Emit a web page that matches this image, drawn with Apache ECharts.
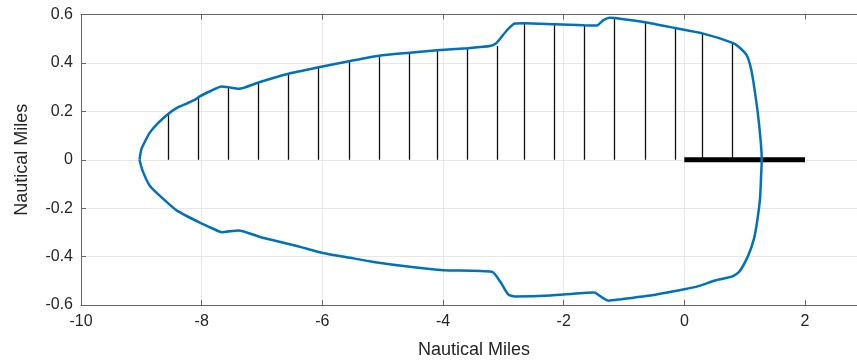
<!DOCTYPE html>
<html>
<head>
<meta charset="utf-8">
<script src="https://cdn.jsdelivr.net/npm/echarts@6/dist/echarts.min.js"></script>
<style>
html,body{margin:0;padding:0;background:#fff;}
#chart{width:857px;height:364px;}
</style>
</head>
<body>
<div id="chart"></div>
<script>
// Closed boundary curve (nautical miles): upper branch, right side, lower branch
const curveX = [-9.03,-9.00,-8.93,-8.86,-8.72,-8.56,-8.41,-8.25,-8.11,-8.03,-7.85,-7.67,-7.56,-7.38,-7.06,-6.56,-6.06,-5.56,-5.06,-4.55,-4.10,-3.60,-3.22,-3.11,-2.94,-2.81,-2.65,-2.15,-1.66,-1.45,-1.34,-1.24,-1.15,-0.65,-0.15,0.30,0.80,0.90,1.03,1.09,1.14,1.23,1.283,1.27,1.255,1.21,1.155,1.06,0.91,0.786,0.537,0.206,0.0,-0.57,-1.07,-1.26,-1.48,-1.51,-2.22,-2.81,-2.92,-3.05,-3.19,-3.99,-4.55,-5.15,-5.54,-5.99,-6.37,-7.03,-7.39,-7.67,-7.81,-8.03,-8.41,-8.60,-8.86,-8.98,-9.03];
const curveY = [0,0.043,0.080,0.112,0.152,0.188,0.214,0.232,0.248,0.262,0.284,0.303,0.300,0.293,0.319,0.355,0.382,0.407,0.430,0.442,0.452,0.461,0.470,0.483,0.535,0.563,0.564,0.560,0.556,0.555,0.577,0.587,0.586,0.568,0.544,0.522,0.483,0.467,0.433,0.392,0.330,0.167,0,-0.08,-0.16,-0.25,-0.326,-0.395,-0.463,-0.483,-0.497,-0.524,-0.535,-0.561,-0.577,-0.582,-0.549,-0.548,-0.561,-0.565,-0.556,-0.504,-0.463,-0.456,-0.442,-0.422,-0.405,-0.385,-0.360,-0.319,-0.292,-0.299,-0.285,-0.260,-0.210,-0.170,-0.107,-0.045,0];

// Vertical reference lines: x positions and heights
const stickX = [-8.56,-8.06,-7.56,-7.06,-6.56,-6.06,-5.56,-5.06,-4.56,-4.10,-3.60,-3.10,-2.65,-2.155,-1.658,-1.154,-0.651,-0.149,0.298,0.802];
const stickTop = [0.185,0.256,0.299,0.319,0.355,0.382,0.407,0.430,0.442,0.452,0.461,0.470,0.564,0.560,0.556,0.585,0.567,0.543,0.522,0.483];

// Thick baseline segment
const barX = [0, 2];
const barY = [0, 0];

const xTicks = [-10,-8,-6,-4,-2,0,2];
const yTicks = [-0.6,-0.4,-0.2,0,0.2,0.4,0.6];

const chart = echarts.init(document.getElementById('chart'), null, {renderer:'canvas'});
const font = 'Liberation Sans, Arial, Helvetica, sans-serif';
const axisCol = '#666';
const txtCol = '#262626';
const xMaxVisible = 2.862; // plot is cut by the right edge of the picture

const option = {
  animation: false,
  backgroundColor: '#fff',
  grid: {left: 81, top: 14.5, width: 776, height: 292.5, containLabel: false},
  xAxis: [{
    type: 'value', min: -10, max: xMaxVisible, interval: 2,
    name: 'Nautical Miles', nameLocation: 'middle', nameGap: 36,
    nameTextStyle: {fontFamily: font, fontSize: 18, color: txtCol, padding: [0, 0, 0, 10]},
    axisLine: {show: true, onZero: false, lineStyle: {color: axisCol, width: 1}},
    axisTick: {show: true, inside: true, length: 5, lineStyle: {color: axisCol},
      customValues: xTicks},
    axisLabel: {fontFamily: font, fontSize: 16, color: txtCol, margin: 9,
      customValues: xTicks, formatter: v => String(v)},
    splitLine: {show: true, showMaxLine: false, lineStyle: {color: '#e8e8e8', width: 1}}
  }, {
    type: 'value', position: 'top', min: -10, max: xMaxVisible, interval: 2,
    axisLine: {show: true, onZero: false, lineStyle: {color: axisCol, width: 1}},
    axisTick: {show: true, inside: true, length: 5, lineStyle: {color: axisCol},
      customValues: xTicks},
    axisLabel: {show: false}, splitLine: {show: false}
  }],
  yAxis: {
    type: 'value', min: -0.6, max: 0.6, interval: 0.2,
    name: 'Nautical Miles', nameLocation: 'middle', nameGap: 50,
    nameTextStyle: {fontFamily: font, fontSize: 18, color: txtCol},
    axisLine: {show: true, onZero: false, lineStyle: {color: axisCol, width: 1}},
    axisTick: {show: true, inside: true, length: 5, lineStyle: {color: axisCol}},
    axisLabel: {fontFamily: font, fontSize: 16, color: txtCol, margin: 8,
      formatter: v => { const r = Math.round(v*10)/10; return yTicks.includes(r) ? String(r) : ''; }},
    splitLine: {show: true, lineStyle: {color: '#e8e8e8', width: 1}}
  },
  series: [
    {
      type: 'lines', coordinateSystem: 'cartesian2d', z: 2,
      lineStyle: {color: '#111', width: 1.3, opacity: 1},
      data: stickX.map((x, i) => ({coords: [[x, 0], [x, stickTop[i]]]}))
    },
    {
      type: 'line', z: 3, showSymbol: false, symbol: 'none',
      lineStyle: {color: '#000', width: 5},
      data: barX.map((x, i) => [x, barY[i]])
    },
    {
      type: 'line', z: 4, showSymbol: false, symbol: 'none', smooth: 0.2,
      lineStyle: {color: '#0072BD', width: 2.5},
      data: curveX.map((x, i) => [x, curveY[i]])
    }
  ]
};
chart.setOption(option);
</script>
</body>
</html>
